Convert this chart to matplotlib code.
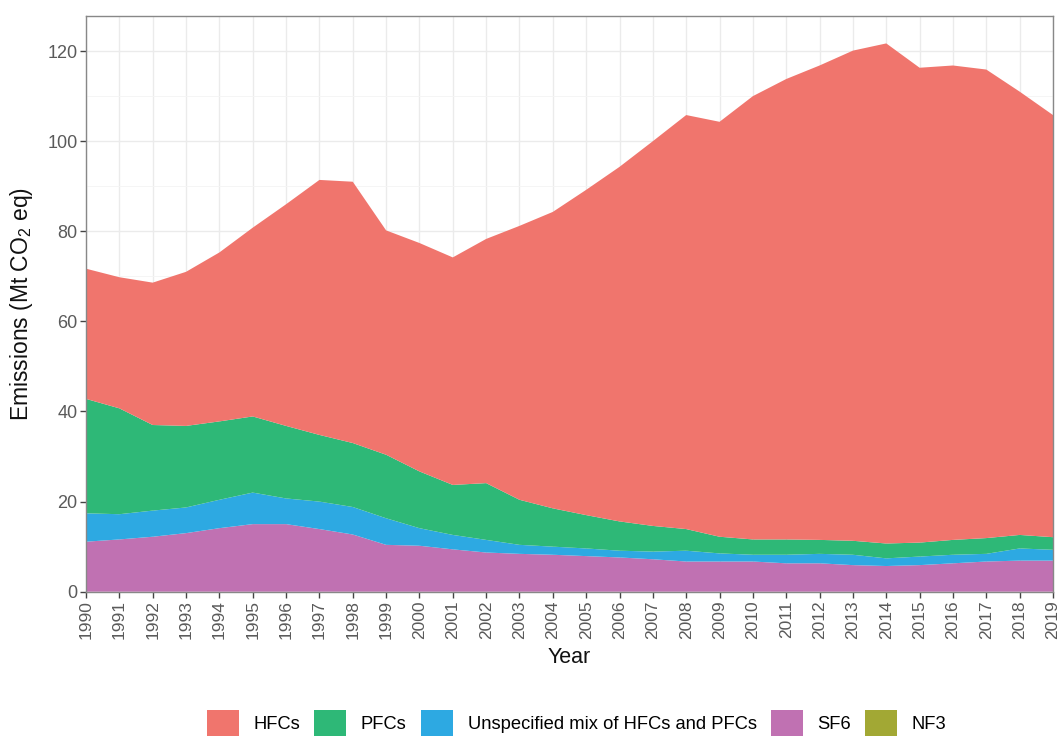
import matplotlib
matplotlib.use("Agg")
import matplotlib.pyplot as plt
from matplotlib.patches import Patch
from matplotlib.ticker import MultipleLocator

plt.rcParams['font.family'] = ['Liberation Sans', 'DejaVu Sans']
plt.rcParams['mathtext.fontset'] = 'custom'
plt.rcParams['mathtext.rm'] = 'Liberation Sans'
plt.rcParams['mathtext.it'] = 'Liberation Sans:italic'

years = list(range(1990, 2020))
hfcs = [28.9, 29.1, 31.6, 34.2, 37.5, 41.9, 49.2, 56.6, 58.0, 49.8,
        50.7, 50.5, 54.2, 60.8, 65.8, 72.2, 78.7, 85.4, 91.9, 92.1,
        98.4, 102.2, 105.3, 108.8, 111.0, 105.4, 105.3, 104.0, 98.4, 93.7]
pfcs = [25.4, 23.5, 19.0, 18.1, 17.4, 16.9, 16.1, 14.8, 14.2, 14.1,
        12.6, 11.1, 12.6, 10.0, 8.5, 7.4, 6.5, 5.7, 4.8, 3.7,
        3.4, 3.4, 3.1, 3.1, 3.3, 3.1, 3.3, 3.5, 3.0, 2.8]
unspecified = [6.3, 5.6, 5.8, 5.7, 6.3, 7.0, 5.7, 6.1, 6.1, 5.9,
               3.9, 3.2, 2.8, 2.0, 1.8, 1.7, 1.5, 1.7, 2.4, 1.8,
               1.5, 1.9, 2.1, 2.3, 1.7, 1.9, 1.9, 1.7, 2.7, 2.4]
sf6 = [11.1, 11.6, 12.2, 13.0, 14.1, 15.0, 15.0, 13.9, 12.7, 10.4,
       10.2, 9.4, 8.7, 8.4, 8.2, 7.9, 7.6, 7.2, 6.7, 6.7,
       6.7, 6.3, 6.3, 5.9, 5.7, 5.9, 6.3, 6.7, 6.9, 6.9]
nf3 = [0.0] * 30

labels = ["HFCs", "PFCs", "Unspecified mix of HFCs and PFCs", "SF6", "NF3"]
colors = {"HFCs": "#F0756D", "PFCs": "#2EB877", "Unspecified mix of HFCs and PFCs": "#2DA9E2",
          "SF6": "#C071B2", "NF3": "#A2A834"}

fig = plt.figure(figsize=(10.64, 7.38), dpi=100)
ax = fig.add_axes([86/1064, 1 - 591.7/738, (1053 - 86)/1064, (591.7 - 16)/738])

series = [nf3, sf6, unspecified, pfcs, hfcs]
names = ["NF3", "SF6", "Unspecified mix of HFCs and PFCs", "PFCs", "HFCs"]
ax.stackplot(years, *series, colors=[colors[n] for n in names], linewidth=0, zorder=2)

total = [a + b + c + d + e for a, b, c, d, e in zip(*series)]
ax.set_xlim(1990, 2019)
ax.set_ylim(0, max(total) * 1.05)
ax.set_xticks(years)
ax.set_xticklabels([str(y) for y in years], rotation=90)
ax.yaxis.set_major_locator(MultipleLocator(20))
ax.yaxis.set_minor_locator(MultipleLocator(10))
ax.grid(True, which='major', color='#EBEBEB', linewidth=1.0, zorder=0)
ax.grid(True, which='minor', axis='y', color='#F4F4F4', linewidth=0.6, zorder=0)
ax.set_axisbelow(True)
for s in ax.spines.values():
    s.set_color('#888888')
    s.set_linewidth(1.0)
ax.tick_params(axis='both', which='major', length=4, width=1, color='#444444',
               labelcolor='#5A5A5A', pad=2)
ax.tick_params(axis='y', which='major', labelsize=13)
ax.tick_params(axis='x', which='major', labelsize=12.5)
ax.tick_params(axis='y', which='minor', length=0)

ax.set_xlabel("Year", fontsize=15.5, color='#111111', labelpad=6)
ax.set_ylabel(r"Emissions (Mt CO$_2$ eq)", fontsize=16.5, color='#111111', labelpad=9)

handles = [Patch(facecolor=colors[l], edgecolor='none') for l in labels]
fig.legend(handles, labels, loc='center', bbox_to_anchor=(576.5/1064, 1 - 723/738), ncol=5,
           frameon=False, fontsize=13.2, handlelength=1.75, handleheight=1.75,
           handletextpad=0.8, columnspacing=0.77, borderaxespad=0, borderpad=0)

fig.savefig("out.png", dpi=100)
